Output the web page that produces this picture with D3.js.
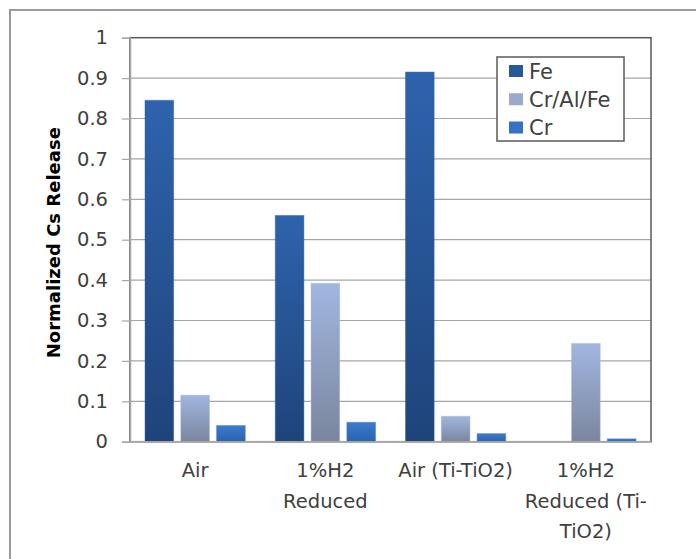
<!DOCTYPE html>
<html>
<head>
<meta charset="utf-8">
<script src="https://cdn.jsdelivr.net/npm/d3@7"></script>
<style>
  html, body { margin: 0; padding: 0; background: #fff; }
  svg { display: block; font-family: "DejaVu Sans", sans-serif; }
</style>
</head>
<body>
<svg id="chart" width="696" height="559"></svg>
<script>
// Categories and the lines used to print each one under the axis
const categories = ["Air", "1%H2 Reduced", "Air (Ti-TiO2)", "1%H2 Reduced (Ti-TiO2)"];
const categoryLines = [["Air"], ["1%H2", "Reduced"], ["Air (Ti-TiO2)"], ["1%H2", "Reduced (Ti-", "TiO2)"]];

// Series
const series = ["Fe", "Cr/Al/Fe", "Cr"];
const feValues = [0.845, 0.56, 0.915, 0];
const crAlFeValues = [0.115, 0.392, 0.063, 0.243];
const crValues = [0.04, 0.048, 0.02, 0.007];

// Value axis
const yTickValues = [0, 0.1, 0.2, 0.3, 0.4, 0.5, 0.6, 0.7, 0.8, 0.9, 1];
const yTickLabels = ["0", "0.1", "0.2", "0.3", "0.4", "0.5", "0.6", "0.7", "0.8", "0.9", "1"];
const yTitle = "Normalized Cs Release";

const seriesValues = [feValues, crAlFeValues, crValues];
const gradientStops = [
  ["#2e63ad", "#1e447a"],
  ["#a1b6e0", "#7a869e"],
  ["#3c7bcd", "#2b62ad"]
];
const swatchColors = ["#27589c", "#99aacd", "#3571c5"];
const textColor = "#404040";

const svg = d3.select("#chart");
const plot = { left: 130, top: 37.7, right: 651, bottom: 441.7 };

// Outer chart frame (continues past the right and bottom edges)
svg.append("rect")
  .attr("x", 10).attr("y", 10)
  .attr("width", 740).attr("height", 600)
  .attr("fill", "#fff")
  .attr("stroke", "#9a9a9a").attr("stroke-width", 2);

const x0 = d3.scaleBand().domain(categories).range([plot.left, plot.right]);
const x1 = d3.scaleBand().domain(series)
  .range([15, x0.bandwidth() - 15]).paddingInner(0.2);
const y = d3.scaleLinear().domain([0, 1]).range([plot.bottom, plot.top]);

// Gradients, one per series, running down each bar
const defs = svg.append("defs");
series.forEach((s, i) => {
  const g = defs.append("linearGradient")
    .attr("id", "grad" + i)
    .attr("x1", 0).attr("y1", 0).attr("x2", 0).attr("y2", 1);
  g.append("stop").attr("offset", "0%").attr("stop-color", gradientStops[i][0]);
  g.append("stop").attr("offset", "100%").attr("stop-color", gradientStops[i][1]);
});

// Horizontal gridlines
svg.append("g")
  .selectAll("line")
  .data(yTickValues.slice(1, -1))
  .join("line")
  .attr("x1", plot.left).attr("x2", plot.right)
  .attr("y1", d => y(d)).attr("y2", d => y(d))
  .attr("stroke", "#a6a6a6").attr("stroke-width", 1.2);

// Plot area border
svg.append("rect")
  .attr("x", plot.left).attr("y", plot.top)
  .attr("width", plot.right - plot.left).attr("height", plot.bottom - plot.top)
  .attr("fill", "none")
  .attr("stroke", "#5a5a5a").attr("stroke-width", 1.5);

// Bars
const groups = svg.append("g")
  .selectAll("g")
  .data(categories)
  .join("g")
  .attr("transform", d => `translate(${x0(d)},0)`);

groups.selectAll("rect")
  .data((c, ci) => series.map((s, si) => ({ s, si, v: seriesValues[si][ci] })))
  .join("rect")
  .filter(d => d.v > 0)
  .attr("x", d => x1(d.s))
  .attr("width", x1.bandwidth())
  .attr("y", d => y(d.v))
  .attr("height", d => y(0) - y(d.v))
  .attr("fill", d => `url(#grad${d.si})`)
  .attr("stroke", d => gradientStops[d.si][0])
  .attr("stroke-opacity", 0.45)
  .attr("stroke-width", 1);

// Value axis
const yAxis = d3.axisLeft(y)
  .tickValues(yTickValues)
  .tickFormat((d, i) => yTickLabels[i])
  .tickSize(8)
  .tickPadding(14);

const yG = svg.append("g")
  .attr("transform", `translate(${plot.left},0)`)
  .call(yAxis);
yG.select(".domain").attr("stroke", "#a6a6a6").attr("stroke-width", 1.5);
yG.selectAll(".tick line").attr("stroke", "#a6a6a6").attr("stroke-width", 1.2);
yG.selectAll(".tick text")
  .attr("fill", textColor)
  .style("font-family", "'DejaVu Sans', sans-serif")
  .style("font-size", "19.5px");

// Category axis line
svg.append("line")
  .attr("x1", plot.left).attr("x2", plot.right)
  .attr("y1", y(0)).attr("y2", y(0))
  .attr("stroke", "#a6a6a6").attr("stroke-width", 1.5);

// Category labels
const xLabels = svg.append("g")
  .selectAll("text")
  .data(categories)
  .join("text")
  .attr("x", d => x0(d) + x0.bandwidth() / 2)
  .attr("y", 477)
  .attr("text-anchor", "middle")
  .attr("fill", textColor)
  .style("font-size", "19.5px");
xLabels.selectAll("tspan")
  .data((d, i) => categoryLines[i])
  .join("tspan")
  .attr("x", function () { return this.parentNode.getAttribute("x"); })
  .attr("dy", (d, i) => i === 0 ? 0 : 30.5)
  .text(d => d);

// Value axis title
svg.append("text")
  .attr("transform", `translate(60,${(plot.top + plot.bottom) / 2 + 3}) rotate(-90)`)
  .attr("text-anchor", "middle")
  .attr("fill", "#000")
  .style("font-weight", "bold")
  .style("font-size", "18px")
  .text(yTitle);

// Legend
const legend = svg.append("g");
legend.append("rect")
  .attr("x", 497).attr("y", 57)
  .attr("width", 127).attr("height", 84)
  .attr("fill", "#fff")
  .attr("stroke", "#5a5a5a").attr("stroke-width", 1.5);

const rowY = d3.scalePoint().domain(series).range([71, 127.5]);
const rows = legend.selectAll("g.row")
  .data(series)
  .join("g")
  .attr("class", "row")
  .attr("transform", d => `translate(509,${rowY(d)})`);
rows.append("rect")
  .attr("x", 0).attr("y", -6)
  .attr("width", 14).attr("height", 12)
  .attr("fill", (d, i) => swatchColors[i]);
rows.append("text")
  .attr("x", 20).attr("y", 0).attr("dy", "0.36em")
  .attr("fill", textColor)
  .style("font-size", "21px")
  .text(d => d);
</script>
</body>
</html>
